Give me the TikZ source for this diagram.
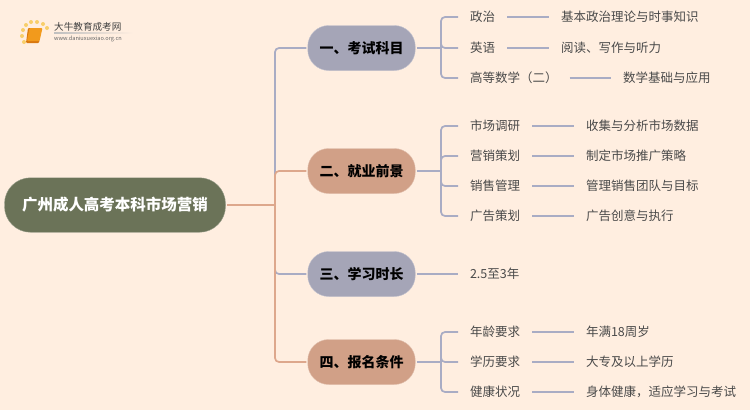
\documentclass[tikz,border=0pt]{standalone}
\usepackage{fontspec}
\setmainfont{Noto Sans CJK SC}
\usetikzlibrary{arrows.meta,positioning,calc}
\definecolor{PageCream}{HTML}{FFEEE0}
\definecolor{RootGreen}{HTML}{6B7358}
\definecolor{TopicGray}{HTML}{A5A5B7}
\definecolor{TopicTan}{HTML}{D1A087}
\definecolor{LineGray}{HTML}{A9ACC4}
\definecolor{LineTan}{HTML}{DDA78C}
\definecolor{LeafText}{HTML}{4A4A4A}
\definecolor{BookOrange}{HTML}{F29A1C}
\definecolor{BookEdge}{HTML}{D9780F}
\definecolor{DotYellow}{HTML}{F8CE6A}

\begin{document}
\begin{tikzpicture}[
		x=1pt,y=-1pt,
		root/.style={draw=RootGreen!70!white,fill=RootGreen,text=white,rounded corners=26pt,minimum width=221pt,minimum height=54.5pt,inner sep=0pt,outer sep=1.5pt,text height=13.6pt,text depth=1.9pt,font=\fontsize{15.5}{15.5}\selectfont\bfseries},
		topic/.style={draw=#1!70!white,fill=#1,rounded corners=21pt,minimum width=107.5pt,minimum height=45pt,inner sep=0pt,outer sep=1.5pt,text=black,text height=12.3pt,text depth=1.7pt,font=\fontsize{14}{14}\selectfont\bfseries},
		leaf/.style={text=LeafText,inner sep=0pt,outer xsep=12pt,anchor=west,text height=11pt,text depth=1.5pt,font=\fontsize{12.5}{12.5}\selectfont},
		gline/.style={draw=LineGray,line width=1.7pt,rounded corners=4pt},
		tline/.style={draw=LineTan,line width=1.7pt,rounded corners=4pt}
	]
	\useasboundingbox[fill=PageCream] (0,0) rectangle (750,410);
	% logo
	\fill[BookEdge,rounded corners=1pt] (28,28) -- (41.5,28) -- (39,43) -- (26,43) -- cycle;
	\fill[BookOrange,rounded corners=1pt] (29.5,28) -- (42.5,28) -- (39.5,41) -- (27,41) -- cycle;
	\foreach \px/\py in {22/36,23/30,26/25,31/22,37/22,43/24,47/28,24/42}
		\fill[DotYellow] (\px,\py) circle (2pt);
	\shade[left color=black!25,right color=PageCream] (54,32.6) rectangle (133,33.6);
	\node[inner sep=0pt,anchor=west,text=black!75,font=\fontsize{9.6}{9.6}\selectfont] (logoname) at (54,27) {大牛教育成考网};
	\node[inner sep=0pt,anchor=west,text=black!60,font=\fontsize{5.6}{5.6}\selectfont] (logourl) at (54,38.7) {www.daniuxuexiao.org.cn};
	% main nodes
	\node[root] (main) at (115,205) {广州成人高考本科市场营销};
	\node[topic=TopicGray] (exam) at (361.5,48) {一、考试科目};
	\node[topic=TopicTan] (job) at (361.5,171) {二、就业前景};
	\node[topic=TopicGray] (time) at (361.5,274) {三、学习时长};
	\node[topic=TopicTan] (entry) at (361.5,362) {四、报名条件};
	% leaves
	\node[leaf] (zz) at (458,17) {政治};
	\node[leaf] (yy) at (458,48) {英语};
	\node[leaf] (sx) at (458,78) {高等数学（二）};
	\node[leaf] (zzd) at (549,17) {基本政治理论与时事知识};
	\node[leaf] (yyd) at (549,48) {阅读、写作与听力};
	\node[leaf] (sxd) at (611,78) {数学基础与应用};
	\node[leaf] (dy) at (458,126) {市场调研};
	\node[leaf] (ch) at (458,156) {营销策划};
	\node[leaf] (xs) at (458,186) {销售管理};
	\node[leaf] (gg) at (458,216) {广告策划};
	\node[leaf] (dyd) at (574,126) {收集与分析市场数据};
	\node[leaf] (chd) at (574,156) {制定市场推广策略};
	\node[leaf] (xsd) at (574,186) {管理销售团队与目标};
	\node[leaf] (ggd) at (574,216) {广告创意与执行};
	\node[leaf] (len) at (458,274) {2.5至3年};
	\node[leaf] (nl) at (458,332) {年龄要求};
	\node[leaf] (xl) at (458,362) {学历要求};
	\node[leaf] (jk) at (458,392) {健康状况};
	\node[leaf] (nld) at (574,332) {年满18周岁};
	\node[leaf] (xld) at (574,362) {大专及以上学历};
	\node[leaf] (jkd) at (574,392) {身体健康，适应学习与考试};
	\coordinate (trunk) at (275,205);
	\coordinate (examfork) at (441,48);
	\coordinate (jobfork) at (441,171);
	\coordinate (entryfork) at (441,362);
	% trunk
	\draw[gline] (exam.west) -| (trunk);
	\draw[gline] (time.west) -| (trunk);
	\draw[tline] (job.west) -| (trunk);
	\draw[tline] (entry.west) -| (trunk);
	\draw[tline] (main.east) -- (trunk);
	% forks
	\draw[gline] (exam.east) -- (examfork);
	\draw[gline] (job.east) -- (jobfork);
	\draw[gline] (entry.east) -- (entryfork);
	\foreach \leafname in {zz,yy,sx}
		\draw[gline] (\leafname.west) -| (examfork);
	\foreach \leafname in {dy,ch,xs,gg}
		\draw[gline] (\leafname.west) -| (jobfork);
	\foreach \leafname in {nl,xl,jk}
		\draw[gline] (\leafname.west) -| (entryfork);
	\draw[gline] (time.east) -- (len.west);
	% details
	\foreach \from/\to in {zz/zzd,yy/yyd,sx/sxd,dy/dyd,ch/chd,xs/xsd,gg/ggd,nl/nld,xl/xld,jk/jkd}
		\draw[gline] (\from.east) -- (\to.west);
\end{tikzpicture}
\end{document}
